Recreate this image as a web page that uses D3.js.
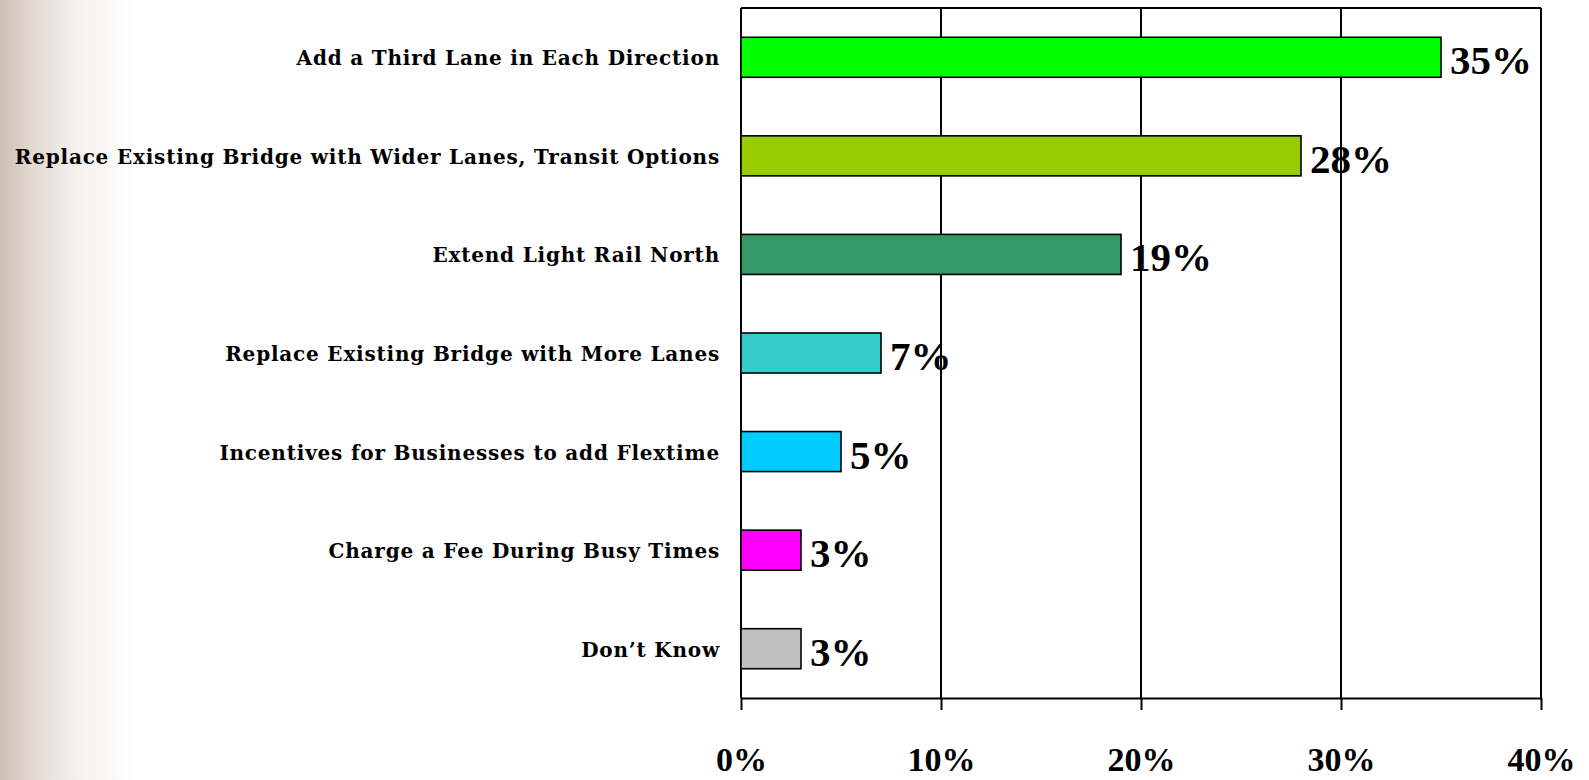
<!DOCTYPE html>
<html>
<head>
<meta charset="utf-8">
<script src="https://cdn.jsdelivr.net/npm/d3@7/dist/d3.min.js"></script>
<style>
  html, body { margin: 0; padding: 0; background: #ffffff; }
  svg { display: block; }
  .cat { font-family: "DejaVu Serif", serif; font-weight: bold; font-size: 20px; fill: #000; }
  .val { font-family: "Liberation Serif", "Times New Roman", serif; font-weight: bold; font-size: 41px; fill: #000; }
  .tick text { font-family: "Liberation Serif", "Times New Roman", serif; font-weight: bold; font-size: 34px; fill: #000; }
</style>
</head>
<body>
<svg id="chart" width="1589" height="780"></svg>
<script>
// Survey responses: preferred option for the corridor
const categories = [
  "Add a Third Lane in Each Direction",
  "Replace Existing Bridge with Wider Lanes, Transit Options",
  "Extend Light Rail North",
  "Replace Existing Bridge with More Lanes",
  "Incentives for Businesses to add Flextime",
  "Charge a Fee During Busy Times",
  "Don\u2019t Know"
];
const values = [0.35, 0.28, 0.19, 0.07, 0.05, 0.03, 0.03];
const barColors = ["#00FF00", "#99CC00", "#339966", "#33CCCC", "#00CCFF", "#FF00FF", "#C0C0C0"];
const tickValues = [0, 0.1, 0.2, 0.3, 0.4];

const W = 1589, H = 780;
const plot = { left: 741, right: 1541, top: 8, bottom: 698 };

const svg = d3.select("#chart");

// Soft brownish fade along the left edge of the slide
const defs = svg.append("defs");
const grad = defs.append("linearGradient")
  .attr("id", "edgeFade")
  .attr("gradientUnits", "userSpaceOnUse")
  .attr("x1", 0).attr("y1", 0).attr("x2", 135).attr("y2", 0);
grad.append("stop").attr("offset", 0).attr("stop-color", "#cfbfb4");
grad.append("stop").attr("offset", 0.25).attr("stop-color", "#e3d9d3");
grad.append("stop").attr("offset", 0.55).attr("stop-color", "#f4f0ed");
grad.append("stop").attr("offset", 1).attr("stop-color", "#ffffff");
svg.append("rect").attr("x", 0).attr("y", 0).attr("width", W).attr("height", H).attr("fill", "url(#edgeFade)");

const x = d3.scaleLinear().domain([0, 0.4]).range([plot.left, plot.right]);
const y = d3.scaleBand()
  .domain(categories)
  .range([plot.top, plot.bottom])
  .paddingInner(0.594)
  .paddingOuter(0.297);

// Vertical gridlines
svg.append("g")
  .selectAll("line")
  .data(tickValues.slice(1))
  .join("line")
  .attr("x1", d => x(d)).attr("x2", d => x(d))
  .attr("y1", plot.top).attr("y2", plot.bottom)
  .attr("stroke", "#000").attr("stroke-width", 2);

// Top border and left axis line
svg.append("line")
  .attr("x1", plot.left).attr("x2", plot.right)
  .attr("y1", plot.top).attr("y2", plot.top)
  .attr("stroke", "#000").attr("stroke-width", 2);
svg.append("line")
  .attr("x1", plot.left).attr("x2", plot.left)
  .attr("y1", plot.top).attr("y2", plot.bottom)
  .attr("stroke", "#000").attr("stroke-width", 2);

// Bars
svg.append("g")
  .selectAll("rect")
  .data(values)
  .join("rect")
  .attr("x", x(0))
  .attr("y", (d, i) => y(categories[i]))
  .attr("width", d => x(d) - x(0))
  .attr("height", y.bandwidth())
  .attr("fill", (d, i) => barColors[i])
  .attr("stroke", "#000")
  .attr("stroke-width", 1.6);

// Bottom axis with percent ticks
const xAxis = d3.axisBottom(x)
  .tickValues(tickValues)
  .tickFormat(d3.format(".0%"))
  .tickSize(12)
  .tickSizeOuter(0);
const gx = svg.append("g")
  .attr("transform", `translate(0,${plot.bottom})`)
  .call(xAxis);
gx.select(".domain").attr("stroke", "#000").attr("stroke-width", 2);
gx.selectAll(".tick line").attr("stroke", "#000").attr("stroke-width", 2);
gx.selectAll(".tick text").attr("y", 73).attr("dy", 0);
gx.attr("font-family", null).attr("font-size", null);

// Category labels, right aligned against the plot
const labelRight = 720, labelLeftLimit = 13;
const cats = svg.append("g")
  .selectAll("text")
  .data(categories)
  .join("text")
  .attr("class", "cat")
  .attr("x", labelRight)
  .attr("y", d => y(d) + y.bandwidth() / 2 + 8)
  .attr("text-anchor", "end")
  .attr("letter-spacing", 0.8)
  .text(d => d);
cats.each(function () {
  const avail = labelRight - labelLeftLimit;
  if (this.getComputedTextLength() > avail) {
    d3.select(this).attr("textLength", avail).attr("lengthAdjust", "spacingAndGlyphs");
  }
});

// Value labels beside each bar
svg.append("g")
  .selectAll("text")
  .data(values)
  .join("text")
  .attr("class", "val")
  .attr("x", d => x(d) + 9)
  .attr("y", (d, i) => y(categories[i]) + y.bandwidth() / 2 + 17)
  .text(d => d3.format(".0%")(d));
</script>
</body>
</html>
